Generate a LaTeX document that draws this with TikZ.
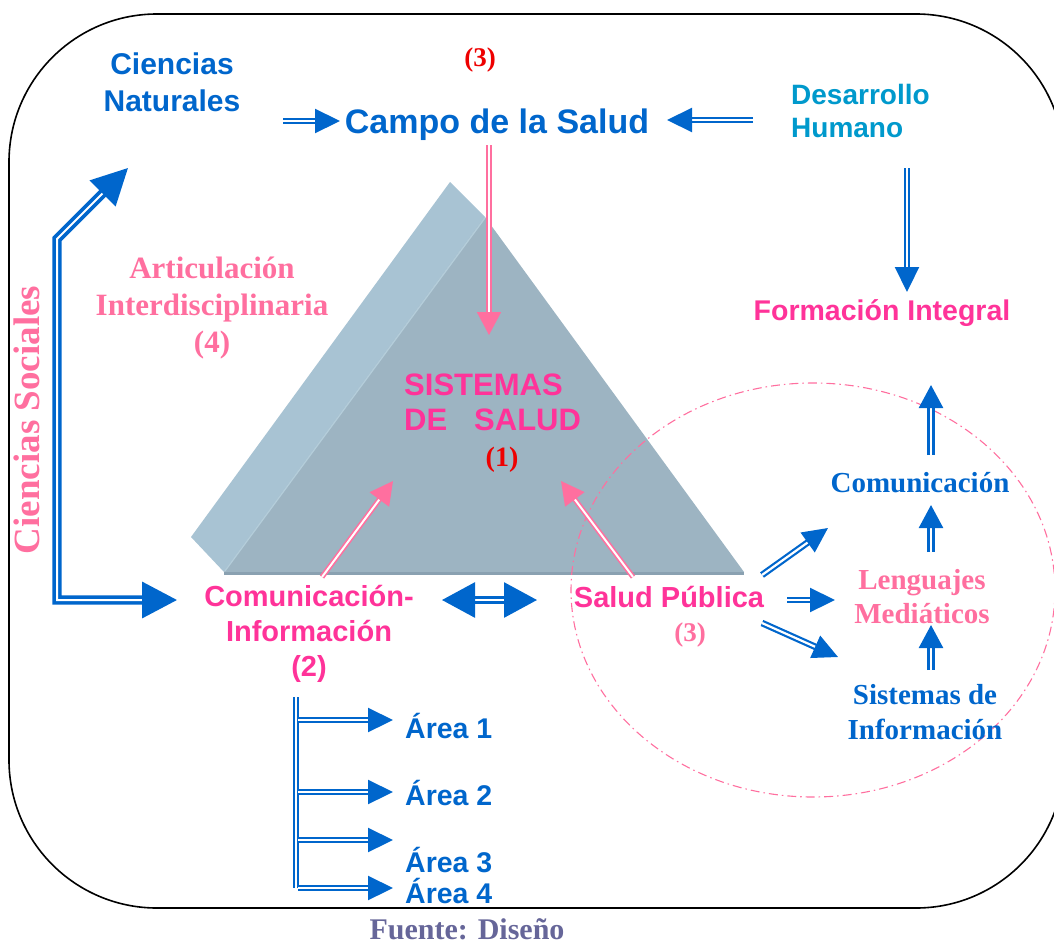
\documentclass[tikz,border=0pt]{standalone}
\usepackage{fontspec}
\setmainfont{Liberation Serif}
\setsansfont{Liberation Sans}
\usetikzlibrary{arrows.meta}
\definecolor{cblue}{HTML}{0066CC}
\definecolor{ccyan}{HTML}{0099CC}
\definecolor{hpink}{HTML}{FF3399}
\definecolor{lpink}{HTML}{FF6F9F}
\definecolor{cred}{HTML}{EE0000}
\definecolor{fgray}{HTML}{666699}
\definecolor{sideface}{HTML}{A8C3D3}
\definecolor{frontface}{HTML}{9DB4C2}
\definecolor{baseedge}{HTML}{8AA1B1}
\definecolor{hilite}{HTML}{B4CDDA}
\newcommand{\sfbf}[2]{\fontsize{#1}{#2}\selectfont\sffamily\bfseries}
\newcommand{\rmbf}[2]{\fontsize{#1}{#2}\selectfont\rmfamily\bfseries}
\tikzset{
  dbl/.style={draw=#1, line width=2.2pt, double=white, double distance=2.2pt, line join=miter},
  dbl/.default=cblue,
  bigdbl/.style={draw=cblue, line width=3.6pt, double=white, double distance=2pt, line join=miter},
  midtip/.style={-{Triangle[length=25pt,width=24pt]}},
  pinktip/.style={-{Triangle[length=23pt,width=24pt]}},
  lbl/.style={inner sep=0pt},
}
\begin{document}
\begin{tikzpicture}[x=1pt,y=-1pt]
\useasboundingbox (0,0) rectangle (1054,945);
\begin{scope}
\clip (0,0) rectangle (1054,945);
\draw[line width=1.6pt, rounded corners=148pt] (9,14) rectangle (1064,908);
\end{scope}

% pyramid
\fill[sideface] (450,182) -- (485,217) -- (224,572) -- (191,537) -- cycle;
\fill[frontface] (485,217) -- (744,572) -- (224,572) -- cycle;
\draw[hilite, line width=1.2pt] (485,218) -- (225,571);
\draw[baseedge, line width=3pt] (224,573) -- (744,573);

% dash-dot ellipse
\draw[lpink, line width=1.1pt, dash pattern=on 9pt off 4pt on 1.5pt off 4pt] (813,590) ellipse [x radius=242, y radius=207];

% texts
\node[lbl, text=cred, font=\rmbf{27}{30}] (n3a) at (480,60) {(3)};
\node[lbl, text=cblue, font=\sfbf{30}{37}, align=center] (cn) at (172,82) {Ciencias\\Naturales};
\node[lbl, text=cblue, font=\sfbf{34}{40}] (campo) at (497,125) {Campo de la Salud};
\node[lbl, text=ccyan, font=\sfbf{28}{33}, align=left, anchor=west] (dh) at (791,111) {Desarrollo\\Humano};
\node[lbl, text=hpink, font=\sfbf{28.5}{34}] (fi) at (882,313) {Formación Integral};
\node[lbl, text=lpink, font=\rmbf{31}{37}, align=center] (ai) at (212,308) {Articulación\\Interdisciplinaria\\(4)};
\node[lbl, text=lpink, font=\rmbf{37}{40}, rotate=90] (cs) at (27,420) {Ciencias Sociales};
\node[lbl, text=hpink, font=\sfbf{31}{35}, align=left, anchor=west] (ss) at (404,402) {SISTEMAS\\DE\hspace{27pt}SALUD};
\node[lbl, text=cred, font=\rmbf{28}{30}] (one) at (502,460) {(1)};
\node[lbl, text=hpink, font=\sfbf{29}{35}, align=center] (ci) at (309,634) {Comunicación-\\Información\\(2)};
\node[lbl, text=hpink, font=\sfbf{29}{35}] (sp) at (669,597) {Salud Pública};
\node[lbl, text=lpink, font=\rmbf{27}{30}] (three) at (690,635) {(3)};
\node[lbl, text=cblue, font=\rmbf{29}{34}] (com) at (920,483) {Comunicación};
\node[lbl, text=lpink, font=\rmbf{29}{34}, align=center] (lm) at (922,597) {Lenguajes\\Mediáticos};
\node[lbl, text=cblue, font=\rmbf{29}{35}, align=center] (si) at (925,712) {Sistemas de\\Información};
\node[lbl, text=cblue, font=\sfbf{28.5}{32}, anchor=west] (a1) at (405,726) {Área 1};
\node[lbl, text=cblue, font=\sfbf{28.5}{32}, anchor=west] (a2) at (405,793) {Área 2};
\node[lbl, text=cblue, font=\sfbf{28.5}{32}, anchor=west] (a3) at (405,860) {Área 3};
\node[lbl, text=cblue, font=\sfbf{28.5}{32}, anchor=west] (a4) at (405,891) {Área 4};
\node[lbl, text=fgray, font=\rmbf{30}{32}, anchor=base] (fuente) at (467,939) {Fuente: Diseño};

% arrow end points
\coordinate (cnS) at (283,121);  \coordinate (campoW) at (340,121);
\coordinate (dhW) at (753,120);  \coordinate (campoE) at (667,120);
\coordinate (dhS) at (907,168);  \coordinate (fiN) at (907,292);
\coordinate (campoS) at (489,145); \coordinate (ssN) at (489,335);
\coordinate (ciNE) at (322,577); \coordinate (ssSW) at (393,481);
\coordinate (spNW) at (633,577); \coordinate (ssSE) at (561,481);
\coordinate (cnSW) at (128,168); \coordinate (bendA) at (57,239);
\coordinate (bendB) at (57,600); \coordinate (ciW) at (177,600);
\coordinate (ciE) at (442,600); \coordinate (spW) at (537,600);
\coordinate (spA) at (762,575); \coordinate (comSW) at (828,528);
\coordinate (spB) at (787,600); \coordinate (lmW) at (835,600);
\coordinate (spC) at (762,623); \coordinate (siNW) at (838,657);
\coordinate (siN) at (931,670); \coordinate (lmS) at (931,625);
\coordinate (lmN) at (931,552); \coordinate (comS) at (931,505);
\coordinate (comN) at (931,455); \coordinate (fiS) at (931,385);
\coordinate (trunkT) at (296,697); \coordinate (trunkB) at (296,888);
\coordinate (b1) at (298,720); \coordinate (t1) at (393,720);
\coordinate (b2) at (298,792); \coordinate (t2) at (393,792);
\coordinate (b3) at (298,840); \coordinate (t3) at (393,840);
\coordinate (b4) at (298,888); \coordinate (t4) at (393,888);

% connectors
\draw[dbl, midtip] (cnS) -- (campoW);
\draw[dbl, midtip] (dhW) -- (campoE);
\draw[dbl, midtip] (dhS) -- (fiN);
\draw[dbl=lpink, line width=1.6pt, double distance=2pt, pinktip] (campoS) -- (ssN);
\draw[dbl=lpink, line width=1.6pt, double distance=2pt, pinktip] (ciNE) -- (ssSW);
\draw[dbl=lpink, line width=1.6pt, double distance=2pt, pinktip] (spNW) -- (ssSE);
\draw[bigdbl, {Triangle[length=36pt,width=36pt]}-{Triangle[length=35pt,width=36pt]}] (cnSW) -- (bendA) -- (bendB) -- (ciW);
\draw[bigdbl, line width=2.8pt, double distance=2.2pt, {Triangle[length=33pt,width=35pt]}-{Triangle[length=33pt,width=35pt]}] (ciE) -- (spW);
\draw[dbl, midtip] (spA) -- (comSW);
\draw[dbl, midtip] (spB) -- (lmW);
\draw[dbl, midtip] (spC) -- (siNW);
\draw[dbl, line width=2.5pt, double distance=2.4pt, pinktip] (siN) -- (lmS);
\draw[dbl, line width=2.5pt, double distance=2.4pt, pinktip] (lmN) -- (comS);
\draw[dbl, line width=2.5pt, double distance=2.4pt, pinktip] (comN) -- (fiS);
\draw[dbl] (trunkT) -- (trunkB);
\draw[dbl, midtip] (b1) -- (t1);
\draw[dbl, midtip] (b2) -- (t2);
\draw[dbl, midtip] (b3) -- (t3);
\draw[dbl, midtip] (b4) -- (t4);
\end{tikzpicture}
\end{document}
